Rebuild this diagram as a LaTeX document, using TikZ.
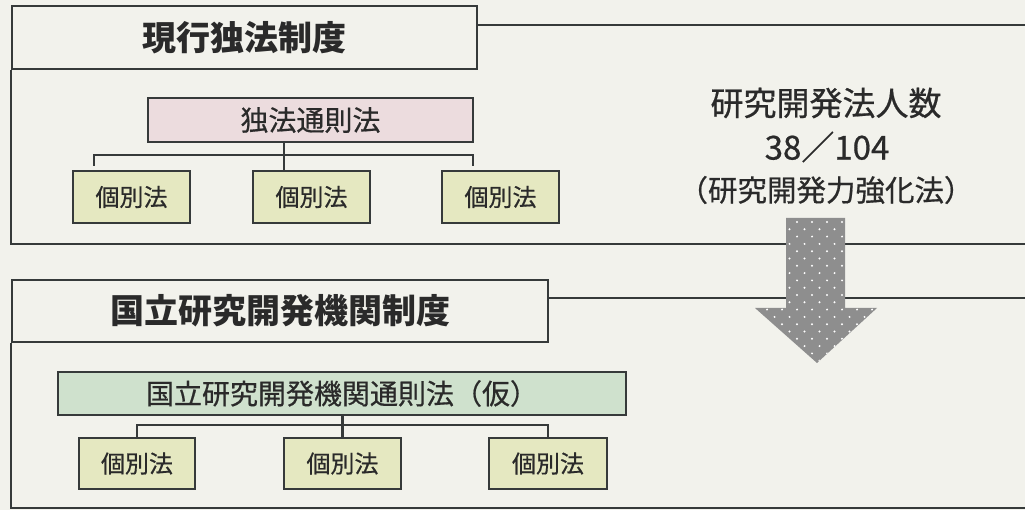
\documentclass[tikz,border=0pt]{standalone}
\usepackage{fontspec}
\setmainfont{Noto Sans CJK JP}
\newfontfamily\jpmed{Noto Sans CJK JP}[FakeBold=0.6]
\definecolor{bg}{HTML}{F2F2EC}
\definecolor{lc}{HTML}{363A3A}
\definecolor{tc}{HTML}{2A2A2A}
\definecolor{pinkc}{HTML}{ECDCDE}
\definecolor{greenc}{HTML}{CFE1CD}
\definecolor{subc}{HTML}{E5E8C1}
\definecolor{arrc}{HTML}{8E8E8E}
\begin{document}
\begin{tikzpicture}[x=1pt,y=-1pt,
  ln/.style={draw=lc, line width=2.2pt},
  titlebox/.style={draw=lc, line width=2.2pt, inner sep=0pt, text=tc,
    font=\fontsize{34}{40}\selectfont\bfseries},
  lawbox/.style={draw=lc, line width=2.2pt, inner sep=0pt, text=tc,
    font=\jpmed\fontsize{28}{34}\selectfont},
  subbox/.style={draw=lc, line width=2.2pt, fill=subc, inner sep=0pt, text=tc,
    minimum width=117pt, minimum height=52pt, font=\jpmed\fontsize{24}{28}\selectfont},
  note/.style={inner sep=0pt, text=tc}]
\fill[bg] (0,0) rectangle (1025,510);
\useasboundingbox (0,0) rectangle (1025,510);

% ---------- top section ----------
\node[titlebox, minimum width=465pt, minimum height=63pt] (T1) at (244.5,37.5) {現行独法制度};
\coordinate (R1) at (1025,25);
\coordinate (B1) at (1025,244);
\draw[ln] (T1.east |- R1) -- (R1);
\draw[ln] (T1.south west) |- (B1);

\node[lawbox, fill=pinkc, minimum width=325pt, minimum height=44pt] (P1) at (310.5,120) {独法通則法};
\node[subbox] (C11) at (131.5,197) {個別法};
\node[subbox] (C12) at (311.5,197) {個別法};
\node[subbox] (C13) at (500.5,197) {個別法};
\coordinate (H1) at (284,155);
\coordinate (D11) at (94,166);
\coordinate (D13) at (473,166);
\draw[ln] (P1.south -| H1) -- (H1) -- (H1 |- C12.north);
\draw[ln] (D11) |- (H1) -| (D13);

% ---------- right text ----------
\node[note, font=\jpmed\fontsize{33}{38}\selectfont] (N1) at (826,103) {研究開発法人数};
\node[note, font=\jpmed\fontsize{33}{38}\selectfont] (N2) at (827,147) {38／104};
\node[note, font=\jpmed\fontsize{29.5}{34}\selectfont] (N3) at (826,190) {（研究開発力強化法）};

% ---------- bottom section ----------
\node[titlebox, minimum width=536pt, minimum height=62pt] (T2) at (280,311) {国立研究開発機関制度};
\coordinate (R2) at (1025,298);
\coordinate (B2) at (1025,508);
\draw[ln] (T2.east |- R2) -- (R2);
\draw[ln] (T2.south west) |- (B2);

\node[lawbox, fill=greenc, minimum width=568pt, minimum height=43pt] (P2) at (342,393.5) {国立研究開発機関通則法（仮）};
\node[subbox, minimum width=116pt, minimum height=51pt] (C21) at (137,463.5) {個別法};
\node[subbox, minimum width=117pt, minimum height=51pt] (C22) at (342.5,463.5) {個別法};
\node[subbox, minimum width=118pt, minimum height=51pt] (C23) at (548,463.5) {個別法};
\coordinate (H2) at (342.5,425);
\draw[ln] (P2.south -| H2) -- (H2) -- (C22.north);
\draw[ln] (C21.north) |- (H2) -| (C23.north);

% ---------- arrow ----------
\path[fill=arrc] (786,218) -- (845,218) -- (845,308) -- (877,308) -- (817,363)
  -- (755,308) -- (786,308) -- cycle;
\begin{scope}
  \clip (786,218) -- (845,218) -- (845,308) -- (877,308) -- (817,363)
  -- (755,308) -- (786,308) -- cycle;
  \foreach \r in {0,...,20} {
    \foreach \c in {0,...,9} {
      \pgfmathsetmacro{\xx}{752 + 15*\c + 7.5*mod(\r,2)}
      \pgfmathsetmacro{\yy}{222 + 7.3*\r}
      \fill[white] (\xx,\yy) circle (1.1pt);
    }
  }
\end{scope}
\end{tikzpicture}
\end{document}
